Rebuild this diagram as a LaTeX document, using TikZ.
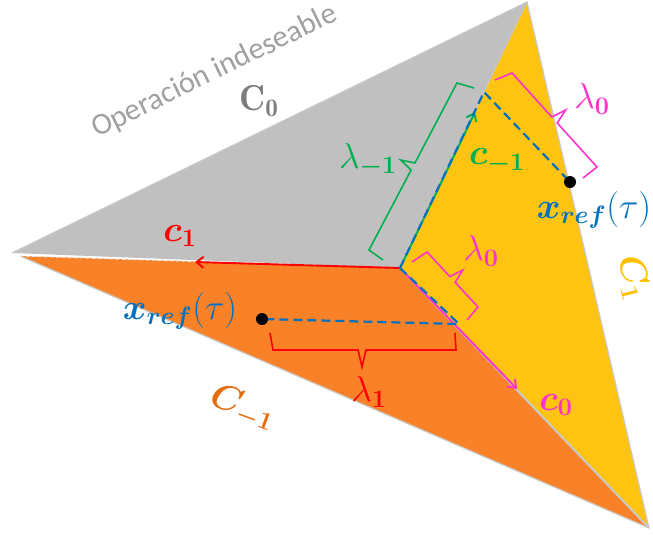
\RequirePackage{fix-cm}
\documentclass[tikz,border=0pt]{standalone}
\usepackage{amsmath,bm}
\usepackage{fontspec}
\newfontfamily\carl{Carlito}
\usetikzlibrary{arrows.meta}
\definecolor{fgray}{RGB}{192,192,192}
\definecolor{fyel}{RGB}{255,196,18}
\definecolor{forg}{RGB}{249,130,40}
\definecolor{edgec}{RGB}{200,200,200}
\definecolor{grn}{RGB}{0,176,80}
\definecolor{mag}{RGB}{255,51,204}
\definecolor{blu}{RGB}{0,112,192}
\definecolor{txtgray}{RGB}{160,160,160}
\definecolor{cogray}{RGB}{125,125,125}
\definecolor{dorg}{RGB}{228,108,10}
\definecolor{gold}{RGB}{255,192,0}
\begin{document}
\begin{tikzpicture}[x=1pt,y=-1pt,
  every node/.style={inner sep=0pt},
  lab/.style={font=\fontsize{36}{42}\selectfont},
  arr/.style={line width=1.9pt,-{Straight Barb[length=7pt,width=11pt]}},
  brk/.style={line width=1.6pt},
  dsh/.style={blu,line width=2.2pt,dash pattern=on 9pt off 5pt}]
\useasboundingbox (0,0) rectangle (653,539);
% vertices
\coordinate (L) at (12,253);
\coordinate (Lo) at (20,256);
\coordinate (T) at (527,2);
\coordinate (B) at (649,528);
\coordinate (C) at (400,268);
% regions
\fill[fgray] (L) -- (T) -- (C) -- cycle;
\fill[fyel] (T) -- (B) -- (C) -- cycle;
\fill[forg] (Lo) -- (C) -- (B) -- cycle;
\draw[edgec, line width=1.2pt] (L) -- (T) -- (B);
\draw[edgec, line width=1.2pt] (Lo) -- (B);
\draw[edgec, line width=2pt] (C) -- (B);
\draw[edgec, line width=1pt] (C) -- (T);
\draw[white!80!gray, dashed, line width=1pt] (Lo) -- (C);
% arrows
\coordinate (c1tip) at (195,262);
\coordinate (cmtip) at (475,112);
\coordinate (c0tip) at (517,389);
\draw[arr, red] (C) -- (c1tip);
\draw[arr, grn] (C) -- (cmtip);
\draw[arr, mag] (C) -- (c0tip);
% dashed projections
\coordinate (P1) at (484,92);
\coordinate (D1) at (570,182);
\coordinate (P2) at (459,324);
\coordinate (D2) at (262,319);
\draw[dsh] (C) -- (P1) -- (D1);
\draw[dsh] (C) -- (P2) -- (D2);
\fill (D1) circle[radius=6pt];
\fill (D2) circle[radius=6pt];
% brackets
\draw[brk, grn] (383,260) -- (369,250) -- (411.1,170) -- (400.6,160) -- (414.9,163) -- (457,83) -- (474,88);
\draw[brk, mag] (495,80) -- (512,73) -- (551.8,117) -- (565.6,110) -- (557.2,123) -- (597,167) -- (583,178);
\draw[brk, mag] (412,262) -- (427,252) -- (449.8,276.6) -- (462.8,270) -- (455.2,282.4) -- (478,307) -- (467,320);
\draw[brk, red] (270,333) -- (273,350) -- (358,350) -- (362,367) -- (366,350) -- (456,350) -- (455,333);
% labels
\node[anchor=base, rotate=26, text=txtgray, font=\carl\fontsize{30.5}{36}\selectfont] (op) at (218,79) {Operación indeseable};
\node[lab, text=cogray] (Czero) at (259,101) {$\mathbf{C_0}$};
\node[lab, text=red] (lc1) at (180,236) {$\bm{c_1}$};
\node[lab, text=grn] (llm1) at (368,160) {$\lambda_{\bm{-1}}$};
\node[lab, text=grn] (lcm1) at (497,161) {$\bm{c_{-1}}$};
\node[lab, text=mag] (ll0a) at (592,99) {$\lambda_{\bm{0}}$};
\node[lab, text=blu] (xr1) at (594,210) {$\bm{x_{ref}}(\tau)$};
\node[lab, text=mag] (ll0b) at (481,251) {$\lambda_{\bm{0}}$};
\node[lab, text=blu] (xr2) at (180,311) {$\bm{x_{ref}}(\tau)$};
\node[lab, text=red] (ll1) at (369,392) {$\lambda_{\bm{1}}$};
\node[lab, text=mag] (lc0) at (556,405) {$\bm{c_0}$};
\node[lab, text=dorg, rotate=-20] (Cm1) at (243,408) {$\bm{C_{-1}}$};
\node[lab, text=gold, rotate=-76] (Cone) at (633,278) {$\bm{C_1}$};
\end{tikzpicture}
\end{document}
